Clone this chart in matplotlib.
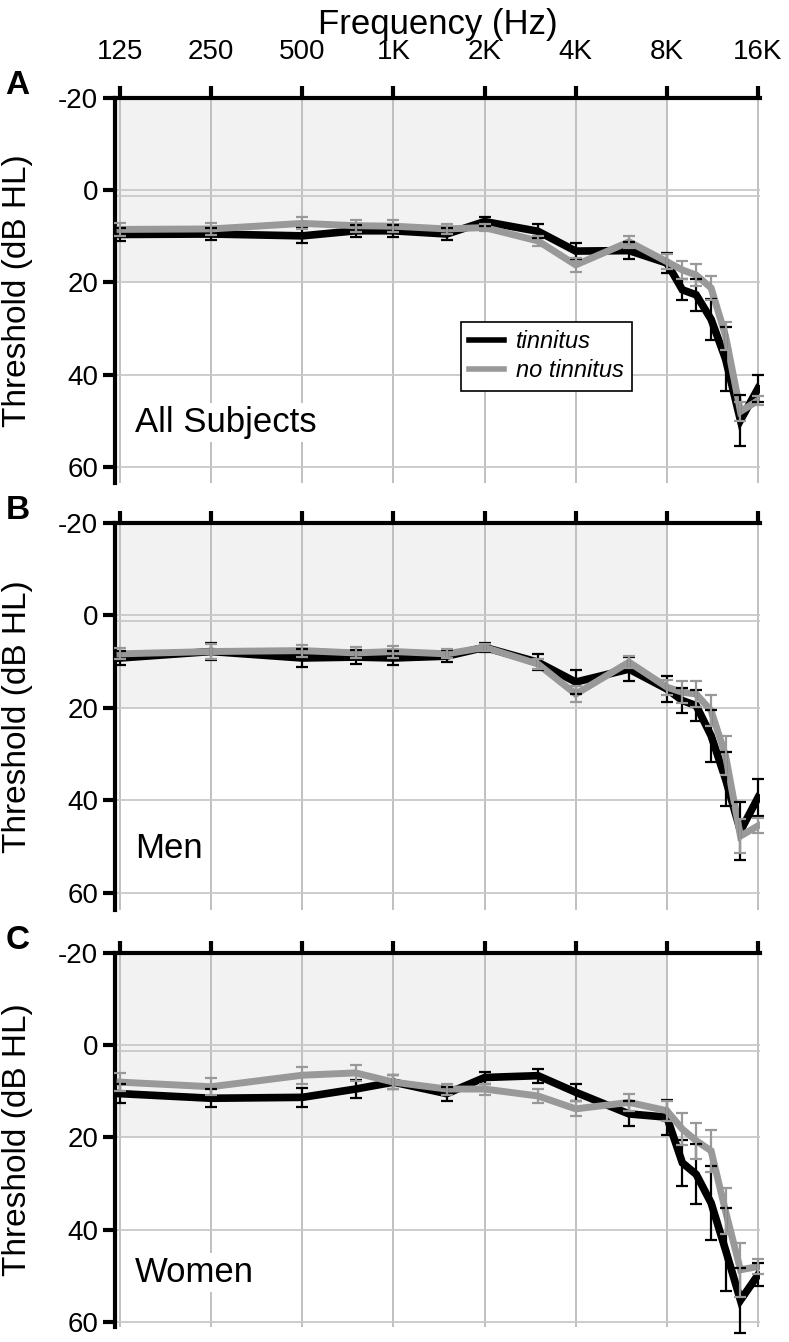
import numpy as np
import matplotlib
matplotlib.use('Agg')
from matplotlib import pyplot as plt
from matplotlib.lines import Line2D

plt.rcParams['font.family'] = ['Liberation Sans', 'DejaVu Sans']

freqs = [125, 250, 500, 750, 1000, 1500, 2000, 3000, 4000, 6000,
         8000, 9000, 10000, 11200, 12500, 14000, 16000]
tick_freqs = [125, 250, 500, 1000, 2000, 4000, 8000, 16000]
tick_labels = ['125', '250', '500', '1K', '2K', '4K', '8K', '16K']

# All subjects
all_tin = [9.6, 9.5, 9.9, 8.8, 8.8, 9.5, 6.8, 8.9, 13.2, 13.1, 15.8, 21.6, 22.7, 28.0, 36.6, 49.9, 43.0]
all_tin_err = [1.5, 1.3, 1.6, 1.3, 1.3, 1.2, 0.9, 1.5, 1.8, 1.8, 2.2, 2.3, 3.4, 4.5, 7.0, 5.5, 3.0]
all_no = [8.5, 8.4, 7.2, 7.7, 7.8, 8.4, 8.1, 11.0, 16.2, 11.2, 15.5, 17.3, 18.4, 21.2, 31.6, 48.0, 45.6]
all_no_err = [1.4, 1.3, 1.3, 1.3, 1.3, 1.0, 0.8, 1.0, 1.5, 1.3, 1.6, 2.0, 2.3, 2.6, 3.0, 2.0, 1.0]

# Men
men_tin = [9.2, 7.8, 9.2, 9.0, 9.2, 8.8, 6.9, 10.1, 14.4, 11.6, 15.9, 18.4, 19.5, 26.0, 35.4, 46.6, 39.4]
men_tin_err = [1.5, 1.8, 2.0, 1.5, 1.6, 1.3, 0.9, 1.8, 2.5, 2.6, 2.8, 2.7, 3.4, 5.6, 5.8, 6.3, 4.0]
men_no = [8.3, 7.8, 7.6, 8.1, 7.8, 8.3, 6.9, 10.5, 17.0, 10.1, 15.5, 16.6, 17.0, 20.6, 30.3, 47.7, 45.5]
men_no_err = [1.2, 1.6, 1.3, 1.2, 1.3, 1.0, 0.8, 1.0, 1.7, 1.3, 1.6, 2.4, 2.9, 3.4, 4.3, 3.6, 1.6]

# Women
wom_tin = [10.5, 11.5, 11.3, 9.5, 8.0, 10.5, 7.0, 6.6, 10.2, 14.9, 15.6, 25.5, 28.0, 34.2, 44.4, 55.3, 49.8]
wom_tin_err = [2.0, 2.0, 2.0, 2.0, 1.5, 1.5, 1.3, 1.5, 1.8, 2.7, 3.8, 5.0, 6.5, 8.0, 9.0, 7.0, 2.5]
wom_no = [8.0, 9.0, 6.5, 6.0, 8.0, 9.5, 9.5, 11.0, 13.8, 12.4, 14.2, 18.2, 20.7, 22.9, 36.0, 48.7, 48.0]
wom_no_err = [2.0, 1.8, 1.8, 1.8, 1.5, 1.2, 1.2, 1.5, 1.6, 1.8, 2.2, 3.4, 3.9, 4.5, 5.0, 5.8, 1.6]

panels = [
    ('A', 'All Subjects', all_tin, all_tin_err, all_no, all_no_err, 0.132),
    ('B', 'Men', men_tin, men_tin_err, men_no, men_no_err, 0.135),
    ('C', 'Women', wom_tin, wom_tin_err, wom_no, wom_no_err, 0.12),
]

W, H = 789, 1342
fig = plt.figure(figsize=(W / 100, H / 100), dpi=100)

# pixel boxes (top, bottom, ybottom limit)
boxes = [(98, 483, 63.5), (523, 910, 63.7), (953, 1327, 61.1)]
left_px, right_px = 115, 760
xlo, xhi = 120.3, 16244

BLACK = '#000000'
GRAY = '#999999'
GRID = '#bbbbbb'

for (letter, name, tin, tin_err, no, no_err, name_y), (top, bot, ybot) in zip(panels, boxes):
    ax = fig.add_axes([left_px / W, 1 - bot / H, (right_px - left_px) / W, (bot - top) / H])
    ax.set_xscale('log', base=2)
    ax.set_xlim(xlo, xhi)
    ax.set_ylim(ybot, -20)

    # normal hearing shading
    ax.fill_between([xlo, 8000], -20, 20, color='#f2f2f2', zorder=0, lw=0)

    for f in tick_freqs:
        ax.axvline(f, color=GRID, lw=1.3, zorder=1)
    for y in [0, 1.2, 20, 40, 60]:
        ax.axhline(y, color='#c8c8c8', lw=1.3, zorder=1)

    ax.plot(freqs, tin, color=BLACK, lw=5.5, zorder=3, solid_joinstyle='miter')
    ax.plot(freqs, no, color=GRAY, lw=5, zorder=4, solid_joinstyle='miter')
    ax.errorbar(freqs, tin, yerr=tin_err, fmt='none', ecolor=BLACK, elinewidth=1.6,
                capsize=4.5, capthick=1.6, zorder=5, clip_on=False)
    ax.errorbar(freqs, no, yerr=no_err, fmt='none', ecolor=GRAY, elinewidth=1.6,
                capsize=4.5, capthick=1.6, zorder=6, clip_on=False)

    ax.spines['right'].set_visible(False)
    ax.spines['bottom'].set_visible(False)
    ax.spines['top'].set_linewidth(3)
    ax.spines['left'].set_linewidth(3)

    ax.xaxis.tick_top()
    ax.set_xticks(tick_freqs)
    ax.xaxis.set_minor_locator(matplotlib.ticker.NullLocator())
    if letter == 'A':
        ax.set_xticklabels(tick_labels, fontsize=20)
        ax.set_xlabel('Frequency (Hz)', fontsize=25, labelpad=4)
        ax.xaxis.set_label_position('top')
    else:
        ax.set_xticklabels([])
    ax.tick_params(axis='x', direction='out', length=9, width=3, pad=14.5)
    ax.set_yticks([-20, 0, 20, 40, 60])
    ax.set_yticklabels(['-20', '0', '20', '40', '60'], fontsize=20)
    ax.tick_params(axis='y', direction='out', length=9, width=3, pad=3)
    ax.set_ylabel('Threshold (dB HL)', fontsize=24)
    ax.yaxis.set_label_coords(-0.127, 0.5)

    ax.text(0.031, name_y, name, transform=ax.transAxes, fontsize=25, va='baseline', ha='left',
            zorder=7, bbox=dict(facecolor='white', edgecolor='none', pad=2))
    ax.text(-0.17, 1.01, letter, transform=ax.transAxes, fontsize=24, fontweight='bold',
            va='baseline', ha='left')

    if letter == 'A':
        handles = [Line2D([], [], color=BLACK, lw=4), Line2D([], [], color=GRAY, lw=4)]
        leg = ax.legend(handles, ['tinnitus', 'no tinnitus'], loc='upper left',
                        bbox_to_anchor=(0.536, 0.418), borderaxespad=0, fancybox=False,
                        edgecolor='black', framealpha=1, prop={'style': 'italic', 'size': 17},
                        handlelength=1.5, handletextpad=0.5, borderpad=0.35, labelspacing=0.25)
        leg.get_frame().set_linewidth(1.2)
        leg.set_zorder(8)

fig.savefig('out.png', dpi=100)
